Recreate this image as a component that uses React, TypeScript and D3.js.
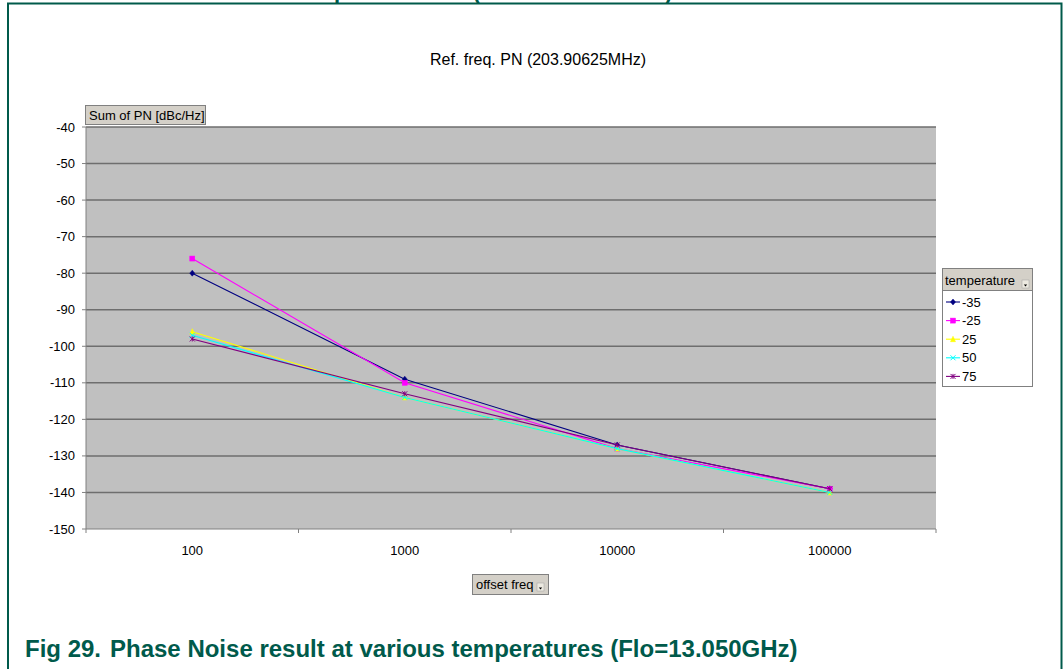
import React from "react";
import * as d3 from "d3";

const categories = ["100", "1000", "10000", "100000"];
const seriesNames = ["-35", "-25", "25", "50", "75"];
const pnMinus35 = [-80, -109, -127, -139];
const pnMinus25 = [-76, -110, -128, -139];
const pn25 = [-96, -114, -128, -140];
const pn50 = [-97, -114, -128, -140];
const pn75 = [-98, -113, -127, -139];
const yTicks = [-40, -50, -60, -70, -80, -90, -100, -110, -120, -130, -140, -150];

const seriesValues = [pnMinus35, pnMinus25, pn25, pn50, pn75];
const seriesColors = ["#000080", "#ff00ff", "#ffff00", "#00ffff", "#800080"];
const markerKinds = ["diamond", "square", "triangle", "x", "star"];

const FONT = "'Liberation Sans', Arial, sans-serif";
const TEAL = "#005a4b";

function Marker({ kind, x, y, color }: { kind: string; x: number; y: number; color: string }) {
  const s = 2.5;
  if (kind === "diamond")
    return <path d={`M${x},${y - s - 0.5}L${x + s},${y}L${x},${y + s + 0.5}L${x - s},${y}Z`} fill={color} stroke={color} strokeWidth={0.5} />;
  if (kind === "square")
    return <rect x={x - s} y={y - s} width={2 * s} height={2 * s} fill={color} stroke={color} strokeWidth={0.5} />;
  if (kind === "triangle")
    return <path d={`M${x},${y - s - 0.5}L${x + s},${y + s}L${x - s},${y + s}Z`} fill={color} stroke={color} strokeWidth={0.5} />;
  if (kind === "x")
    return <path d={`M${x - s},${y - s}L${x + s},${y + s}M${x - s},${y + s}L${x + s},${y - s}`} stroke={color} strokeWidth={1} fill="none" />;
  return (
    <path
      d={`M${x - s},${y - s}L${x + s},${y + s}M${x - s},${y + s}L${x + s},${y - s}M${x},${y - s}L${x},${y + s}`}
      stroke={color}
      strokeWidth={1}
      fill="none"
    />
  );
}

function DropIcon({ x, y }: { x: number; y: number }) {
  return (
    <g>
      <rect x={x} y={y} width={7} height={8} fill="#ece9e0" stroke="#a0a0a0" strokeWidth={0.5} />
      <path d={`M${x + 1.8},${y + 4.5}L${x + 5.2},${y + 4.5}L${x + 3.5},${y + 6.5}Z`} fill="#000" />
    </g>
  );
}

export default function App() {
  const plotLeft = 86;
  const plotRight = 936;
  const plotTop = 127;
  const plotBottom = 529;

  const x = d3.scaleBand<string>().domain(categories).range([plotLeft, plotRight]).padding(0);
  const cx = (c: string) => (x(c) as number) + x.bandwidth() / 2;
  const y = d3.scaleLinear().domain([-150, -40]).range([plotBottom, plotTop]);

  const line = d3
    .line<number>()
    .x((_, i) => cx(categories[i]))
    .y((v) => y(v));

  const boundaries = [...categories.map((c) => x(c) as number), plotRight];

  const legendX = 942;
  const legendY = 268;
  const legendW = 90;
  const legendItemY = (i: number) => 302 + i * 18.6;

  return (
    <svg
      width={1063}
      height={669}
      style={{ position: "absolute", left: 0, top: 0, background: "#fff" }}
      fontFamily={FONT}
    >
      <rect x={0} y={0} width={1063} height={669} fill="#fff" />
      {/* frame */}
      <path d="M8,669L8,3.5L1061.5,3.5L1061.5,669" fill="none" stroke={TEAL} strokeWidth={2} />
      {/* cut-off heading descenders */}
      <g fill={TEAL} fontWeight="bold" fontSize={22}>
        <text x={334} y={-1}>p</text>
        <text x={473} y={-1}>(</text>
        <text x={665} y={-1}>)</text>
      </g>

      {/* chart title */}
      <text x={538} y={65} textAnchor="middle" fontSize={16} fill="#000">
        Ref. freq. PN (203.90625MHz)
      </text>

      {/* plot area */}
      <rect x={plotLeft} y={plotTop} width={plotRight - plotLeft} height={plotBottom - plotTop} fill="#c0c0c0" />
      {yTicks
        .filter((t) => t !== -150)
        .map((t) => (
          <line key={t} x1={plotLeft} x2={plotRight} y1={y(t)} y2={y(t)} stroke="#6e6e6e" strokeWidth={1.5} />
        ))}

      {/* axes */}
      <line x1={plotLeft} x2={plotLeft} y1={plotTop} y2={plotBottom} stroke="#808080" strokeWidth={1} />
      <line x1={plotLeft} x2={plotRight} y1={plotBottom} y2={plotBottom} stroke="#808080" strokeWidth={1} />
      {yTicks.map((t) => (
        <g key={t}>
          <line x1={plotLeft - 4} x2={plotLeft} y1={y(t)} y2={y(t)} stroke="#808080" />
          <text x={75} y={y(t)} dy="0.35em" textAnchor="end" fontSize={13} fill="#000">
            {t}
          </text>
        </g>
      ))}
      {boundaries.map((b, i) => (
        <line key={i} x1={b} x2={b} y1={plotBottom} y2={plotBottom + 4} stroke="#808080" />
      ))}
      {categories.map((c) => (
        <text key={c} x={cx(c)} y={550} dy="0.35em" textAnchor="middle" fontSize={13} fill="#000">
          {c}
        </text>
      ))}

      {/* series */}
      {seriesValues.map((vals, si) => (
        <g key={seriesNames[si]}>
          <path d={line(vals) as string} fill="none" stroke={seriesColors[si]} strokeWidth={1.1} />
          {vals.map((v, i) => (
            <Marker key={i} kind={markerKinds[si]} x={cx(categories[i])} y={y(v)} color={seriesColors[si]} />
          ))}
        </g>
      ))}

      {/* y field button */}
      <rect x={85.5} y={105.5} width={120} height={19} fill="#d4d0c8" stroke="#808080" strokeWidth={1} />
      <text x={89} y={120} fontSize={13} fill="#000">
        Sum of PN [dBc/Hz]
      </text>

      {/* x field button */}
      <rect x={472.5} y={574.5} width={76} height={20} fill="#d4d0c8" stroke="#808080" strokeWidth={1} />
      <text x={476} y={589} fontSize={13} fill="#000">
        offset freq
      </text>
      <DropIcon x={537} y={583} />

      {/* legend */}
      <rect x={legendX + 0.5} y={legendY + 0.5} width={legendW} height={118} fill="#fff" stroke="#808080" strokeWidth={1} />
      <rect x={legendX + 0.5} y={legendY + 0.5} width={legendW} height={22} fill="#d4d0c8" stroke="#808080" strokeWidth={1} />
      <text x={945} y={285} fontSize={13} fill="#000">
        temperature
      </text>
      <DropIcon x={1022} y={280} />
      {seriesNames.map((name, i) => (
        <g key={name}>
          <line x1={946} x2={960} y1={legendItemY(i)} y2={legendItemY(i)} stroke={seriesColors[i]} strokeWidth={1.1} />
          <Marker kind={markerKinds[i]} x={953} y={legendItemY(i)} color={seriesColors[i]} />
          <text x={962} y={legendItemY(i)} dy="0.35em" fontSize={13} fill="#000">
            {name}
          </text>
        </g>
      ))}

      {/* caption */}
      <g fill={TEAL} fontWeight="bold" fontSize={24}>
        <text x={25} y={657}>Fig 29.</text>
        <text x={110} y={657}>Phase Noise result at various temperatures (Flo=13.050GHz)</text>
      </g>
    </svg>
  );
}
